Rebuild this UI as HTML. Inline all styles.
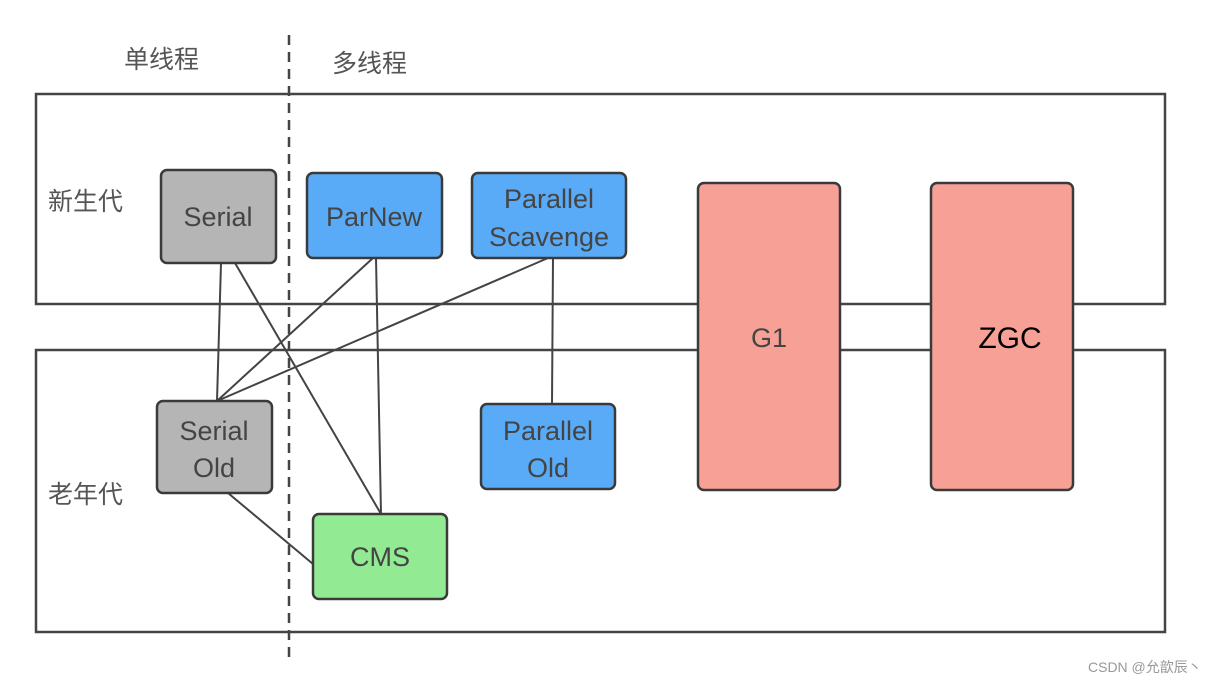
<!DOCTYPE html>
<html><head><meta charset="utf-8"><style>
body{margin:0;width:1232px;height:686px;background:#fff;overflow:hidden}
svg text{font-family:"Liberation Sans","Noto Sans CJK SC",sans-serif}
</style></head><body>
<svg width="1232" height="686" xmlns="http://www.w3.org/2000/svg">
<g fill="none" stroke="#444" stroke-width="2.5">
<rect x="36" y="94" width="1129" height="210"/>
<rect x="36" y="350" width="1129" height="282"/>
</g>
<line x1="289" y1="35" x2="289" y2="660" stroke="#444" stroke-width="2.5" stroke-dasharray="10,7"/>
<g stroke="#444" stroke-width="2">
<line x1="221" y1="263" x2="217" y2="401"/>
<line x1="235" y1="263" x2="381" y2="514"/>
<line x1="373" y1="258" x2="217" y2="401"/>
<line x1="376" y1="258" x2="381" y2="514"/>
<line x1="548" y1="258" x2="217" y2="401"/>
<line x1="553" y1="258" x2="552" y2="404"/>
<line x1="228" y1="493" x2="313" y2="564"/>
</g>
<g stroke="#3a3a3a" stroke-width="2.5">
<rect x="161" y="170" width="115" height="93" rx="6" fill="#b5b5b5"/>
<rect x="307" y="173" width="135" height="85" rx="6" fill="#5aabf7"/>
<rect x="472" y="173" width="154" height="85" rx="6" fill="#5aabf7"/>
<rect x="157" y="401" width="115" height="92" rx="6" fill="#b5b5b5"/>
<rect x="481" y="404" width="134" height="85" rx="6" fill="#5aabf7"/>
<rect x="313" y="514" width="134" height="85" rx="6" fill="#92ea92"/>
<rect x="698" y="183" width="142" height="307" rx="6" fill="#f7a196"/>
<rect x="931" y="183" width="142" height="307" rx="6" fill="#f7a196"/>
</g>
<g fill="#444" font-size="27" text-anchor="middle">
<text x="218" y="226">Serial</text>
<text x="374" y="226">ParNew</text>
<text x="549" y="208">Parallel</text>
<text x="549" y="246">Scavenge</text>
<text x="214" y="440">Serial</text>
<text x="214" y="477">Old</text>
<text x="548" y="440">Parallel</text>
<text x="548" y="477">Old</text>
<text x="380" y="566">CMS</text>
<text x="769" y="347">G1</text>
</g>
<text x="1010" y="348" font-size="30" text-anchor="middle" fill="#000">ZGC</text>
<g fill="#555" font-size="25">
<text x="124" y="68">单线程</text>
<text x="332" y="72">多线程</text>
<text x="48" y="210">新生代</text>
<text x="48" y="503">老年代</text>
</g>
<text x="1088" y="672" font-size="14" fill="#999">CSDN @允歆辰丶</text>
</svg>
</body></html>
